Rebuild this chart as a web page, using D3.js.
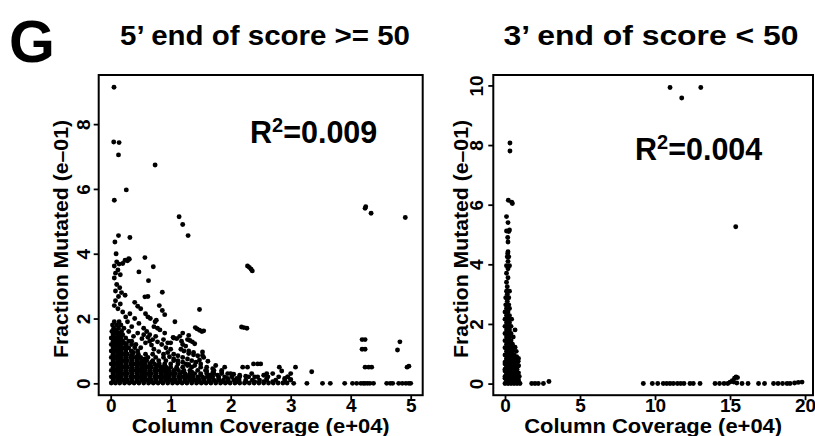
<!DOCTYPE html>
<html><head><meta charset="utf-8">
<script src="https://cdn.jsdelivr.net/npm/d3@7"></script>
<style>
body{margin:0;background:#fff}
svg{display:block}
text{font-family:"Liberation Sans",Arial,Helvetica,sans-serif;font-weight:bold;fill:#000}
</style>
</head><body><svg id="chart" width="815" height="436"></svg>
<script>
// ---------- DATA ----------
const panelLabel = "G";
const titles = ["5\u2019 end of score >= 50", "3\u2019 end of score < 50"];
const r2Labels = ["=0.009", "=0.004"];
const xAxisTitle = "Column Coverage (e+04)";
const yAxisTitle = "Fraction Mutated (e\u201301)";
const leftXTicks = [0, 1, 2, 3, 4, 5];
const leftYTicks = [0, 2, 4, 6, 8];
const rightXTicks = [0, 5, 10, 15, 20];
const rightYTicks = [0, 2, 4, 6, 8, 10];

// left panel: dense band near zero, as rows [y, [x values]]
const leftDenseRows = [
  [0.01,[0.01,0.08,0.15,0.23,0.31,0.39,0.47,0.55,0.63,0.71,0.79,0.87,0.95,1.03,1.11,1.19,1.27,1.35,1.43,1.51,1.59,1.67,1.75,1.83,1.91,1.99,2.07,2.15,2.23,2.31,2.39,2.47,2.55,2.63,2.71,2.79,2.87,2.94]],
  [0.05,[0.05,0.15,0.25,0.35,0.45,0.55,0.65,0.75,0.85,0.95,1.05,1.15,1.25,1.35,1.45,1.55,1.65,1.75,1.85,1.95,2.1,2.25,2.4,2.55,2.7]],
  [0.10,[0.04,0.12,0.2,0.28,0.36,0.44,0.52,0.6,0.68,0.76,0.84,0.92,1.0,1.08,1.16,1.24,1.32,1.4,1.48,1.56,1.64,1.72,1.8,1.88,1.96,2.05,2.14,2.25,2.36,2.48,2.6,2.75,2.9,3.0]],
  [0.15,[0.05,0.15,0.25,0.35,0.45,0.55,0.65,0.75,0.85,0.95,1.05,1.15,1.25,1.35,1.45,1.55,1.65,1.8,1.95,2.1]],
  [0.20,[0.01,0.09,0.17,0.25,0.33,0.41,0.49,0.57,0.65,0.73,0.81,0.89,0.97,1.05,1.13,1.21,1.29,1.37,1.45,1.53,1.61,1.7,1.8,1.9,2.02,2.15,2.3,2.45,2.62,2.8,2.95]],
  [0.25,[0.05,0.15,0.25,0.35,0.45,0.55,0.65,0.75,0.85,0.95,1.05,1.15,1.25,1.35,1.5,1.65]],
  [0.30,[0.04,0.12,0.2,0.28,0.36,0.44,0.52,0.6,0.68,0.76,0.84,0.92,1.0,1.08,1.16,1.24,1.32,1.4,1.5,1.6,1.72,1.85,2.0,2.35,2.6,3.0]],
  [0.35,[0.05,0.15,0.25,0.35,0.45,0.55,0.65,0.75,0.85,0.95,1.05,1.2,1.35]],
  [0.40,[0.01,0.09,0.17,0.25,0.33,0.41,0.49,0.57,0.65,0.73,0.81,0.89,0.97,1.05,1.13,1.22,1.32,1.45,1.58,1.72,1.85]],
  [0.45,[0.05,0.15,0.25,0.35,0.45,0.55,0.65,0.75,0.85,0.95,1.1]],
  [0.50,[0.04,0.12,0.2,0.28,0.36,0.44,0.52,0.6,0.68,0.76,0.84,0.92,1.0,1.1,1.2,1.35,1.5,2.2,2.28,2.81,3.08,4.24,4.3,4.35,4.94]],
  [0.55,[0.05,0.15,0.25,0.35,0.45,0.55,0.65,0.78,0.9]],
  [0.60,[0.01,0.09,0.17,0.25,0.33,0.41,0.49,0.57,0.65,0.73,0.81,0.9,1.0,1.12,1.25,2.38,2.45,2.5]],
  [0.65,[0.05,0.15,0.25,0.35,0.45,0.55,0.68]],
  [0.70,[0.04,0.12,0.2,0.28,0.36,0.44,0.52,0.6,0.7,0.8,0.92,1.05]],
  [0.75,[0.05,0.15,0.25,0.35,0.45,0.57]],
  [0.80,[0.01,0.09,0.17,0.25,0.33,0.41,0.5,0.62,0.75,0.88]],
  [0.85,[0.05,0.15,0.25,0.35,0.45]],
  [0.90,[0.04,0.12,0.2,0.28,0.36,0.46,0.58,0.7]],
  [0.95,[0.05,0.15,0.25,0.38]],
  [1.00,[0.01,0.09,0.17,0.25,0.34,0.45]],
  [1.05,[0.05,0.15,0.25]],
  [1.10,[0.04,0.12,0.2,0.3,0.4]],
  [1.15,[0.06,0.15,0.25]],
  [1.20,[0.01,0.09,0.17,0.26,0.35]],
  [1.25,[0.05,0.14,0.22]],
  [1.30,[0.04,0.12,0.2,0.3]],
  [1.35,[0.06,0.15]],
  [1.40,[0.01,0.09,0.17,0.25]],
  [1.45,[0.05,0.14]],
  [1.50,[0.04,0.12,0.2]],
  [1.55,[0.07,0.15]],
  [1.60,[0.02,0.1,0.18]],
  [1.65,[0.08]],
  [1.70,[0.05,0.13,0.22]],
  [1.80,[0.03,0.1,0.17]],
  [1.90,[0.06,0.14]]
];
// left panel: individual points [coverage e+04, fraction e-01]
const leftPoints = [
  [3.05,0],[3.27,0],[3.53,0],[3.66,0],[3.9,0],[4.03,0],[4.1,0],[4.17,0],[4.21,0],[4.24,0],[4.28,0],[4.32,0],[4.38,0],
  [4.6,0],[4.66,0],[4.7,0],[4.8,0],[4.86,0],[4.92,0],[4.97,0],[5.0,0],
  [0.55,1.5],[0.62,1.42],[0.7,1.35],[0.78,1.28],[0.58,1.25],[0.68,1.18],[0.85,1.2],[0.92,1.1],[1.0,1.05],[0.95,0.95],
  [1.05,0.9],[1.12,0.85],[1.2,0.8],[1.28,0.75],[1.35,0.7],[1.42,0.65],[1.5,0.6],[1.6,0.5],[1.7,0.45],[1.55,0.8],
  [1.45,0.85],[1.38,0.95],[1.3,1.0],[1.2,1.2],[1.25,1.15],[1.18,1.3],[1.05,1.4],[1.1,1.38],[1.28,1.35],[1.32,1.32],
  [1.36,1.28],[1.4,1.22],[1.17,1.05],[1.22,1.0],[1.3,0.92],[1.38,0.88],[1.53,0.97],[1.53,0.86],[0.72,1.75],[0.78,1.7],
  [0.47,1.85],[0.4,2.0],[0.6,1.6],[1.85,0.35],[1.95,0.3],[2.05,0.28],[2.15,0.25],[2.25,0.22],[2.4,0.2],[2.55,0.25],
  [2.7,0.3],[2.85,0.38],[2.95,0.2],[3.0,0.12],[1.75,0.55],[1.9,0.5],[2.6,0.15],
  [0.35,1.3],[0.42,1.2],[0.5,1.1],[0.38,1.45],[0.45,1.55],[0.52,1.38],[0.3,1.6],[0.35,1.75],[0.28,1.9],[0.25,2.05],
  [0.32,2.15],[0.55,1.7],[0.65,1.5],[0.75,1.45],[0.88,1.35],[0.95,1.25],[0.65,1.3],[0.72,1.05],[0.8,0.98],[0.88,0.9],
  [0.98,0.82],[1.05,0.75],[1.12,0.7],[1.2,0.65],[1.3,0.58],[1.4,0.55],[1.6,0.38],[1.7,0.32],[1.78,0.25],[1.28,0.55],
  [1.62,0.68],[1.48,0.72],[1.0,1.25],[0.9,1.55],[1.15,1.45],[1.2,1.55],[1.3,1.48],
  [0.055,9.14],[0.05,7.45],[0.14,7.43],[0.13,7.05],[0.74,6.74],[0.26,5.97],[0.06,5.65],[1.14,5.14],[1.2,4.9],[1.29,4.56],
  [4.24,5.4],[4.25,5.45],[4.34,5.25],[4.91,5.12],[0.13,4.56],[0.32,4.5],[0.07,4.36],[0.09,4.0],[0.31,3.83],[0.57,3.88],
  [0.1,3.75],[0.14,3.68],[0.2,3.7],[0.24,3.8],[0.28,3.78],[0.3,3.85],[0.06,3.62],[0.12,3.5],[0.08,3.4],[0.06,3.25],
  [0.16,3.35],[0.47,3.44],[0.71,3.6],[0.63,3.17],[0.1,3.05],[0.15,2.95],[0.08,2.85],[0.18,2.8],[0.24,2.72],[0.13,2.68],
  [0.86,2.81],[0.57,2.67],[0.62,2.68],[0.4,2.5],[0.45,2.38],[0.5,2.3],[0.08,2.55],[0.06,2.4],[0.12,2.3],[0.16,2.45],
  [0.2,2.2],[0.58,2.15],[0.62,2.05],[0.66,2.0],[0.81,2.4],[0.86,2.25],[0.9,2.12],[0.76,1.95],[0.74,1.9],[1.07,1.9],
  [1.48,2.28],[1.41,1.72],[1.44,1.68],[1.48,1.64],[1.52,1.6],[1.55,1.62],[2.18,1.74],[2.22,1.72],[2.27,1.7],
  [2.28,3.62],[2.31,3.58],[2.34,3.52],[2.36,3.47],[0.82,1.65],[1.04,1.42],[4.19,1.35],[4.24,1.35],[4.19,1.05],[4.24,1.05],
  [4.82,1.28],[4.78,1.03],[4.97,0.53],[3.35,0.36],[2.9,0.15]
];

// right panel: dense strip near zero coverage, rows [y, [x values]]
const rightDenseRows = [
  [0.00,[0.0,0.2,0.4,0.6,0.8,1.0]],
  [0.06,[0.1,0.3,0.5,0.7,0.9]],
  [0.12,[0.1,0.3,0.5,0.7,0.9]],
  [0.18,[0.0,0.2,0.4,0.6,0.8]],
  [0.24,[0.0,0.2,0.4,0.6,0.8,0.95]],
  [0.30,[0.1,0.3,0.5,0.7]],
  [0.36,[0.1,0.3,0.5,0.7,0.9]],
  [0.42,[0.0,0.2,0.4,0.6]],
  [0.48,[0.0,0.2,0.4,0.6,0.8]],
  [0.54,[0.1,0.3,0.5]],
  [0.60,[0.1,0.3,0.5,0.7,0.88]],
  [0.66,[0.0,0.2,0.4]],
  [0.72,[0.0,0.2,0.4,0.6,0.8]],
  [0.78,[0.1,0.3,0.5]],
  [0.84,[0.1,0.3,0.5,0.7,0.9]],
  [0.96,[0.0,0.2,0.4,0.6]],
  [1.08,[0.1,0.3,0.5,0.75]],
  [1.20,[0.0,0.2,0.4,0.6]],
  [1.32,[0.1,0.3,0.5]],
  [1.44,[0.0,0.2,0.4]],
  [1.56,[0.1,0.3,0.55]],
  [1.68,[0.0,0.2,0.4]],
  [1.80,[0.1,0.3,0.67]],
  [1.92,[0.0,0.2,0.4]],
  [2.04,[0.1,0.3]],
  [2.16,[0.0,0.2,0.44]],
  [2.28,[0.1,0.3]],
  [2.40,[0.0,0.2]],
  [2.52,[0.1,0.3]],
  [2.64,[0.05,0.25]],
  [2.76,[0.15]],
  [2.88,[0.05,0.25]],
  [3.00,[0.15]],
  [3.10,[0.1,0.3]],
  [3.25,[0.15]],
  [3.40,[0.1]],
  [3.55,[0.2]],
  [3.70,[0.1]],
  [3.85,[0.2]],
  [3.95,[0.1,0.3]],
  [4.10,[0.2]],
  [4.25,[0.15]],
  [4.36,[0.18]]
];
const rightPoints = [
  [0.33,8.07],[0.33,7.8],[0.22,6.15],[0.49,6.04],[0.45,6.08],[0.1,5.6],[0.2,5.4],[0.1,5.12],[0.25,5.1],[0.3,5.15],
  [0.2,4.42],[0.25,4.25],[0.18,4.9],[0.2,4.75],[0.67,1.22],[0.78,0.9],[0.88,0.75],[0.9,0.6],
  [1.78,0],[2.0,0],[2.22,0],[2.56,0],[2.93,0.07],
  [9.22,0],[9.82,0],[10.18,0],[10.55,0],[10.78,0],[11.0,0],[11.22,0],[11.49,0],[11.71,0],[11.93,0],[12.33,0],[12.55,0],[13.0,0],
  [14.0,0],[14.3,0],[14.6,0],[14.85,0],[15.0,0.05],[15.15,0.1],[15.3,0.18],[15.4,0.22],[15.5,0.2],[15.25,0.05],[15.45,0.02],
  [15.8,0],[16.2,0],[16.9,0],[17.3,0],[17.9,0],[18.2,0],[18.5,0],[18.8,0],[19.0,0],[19.3,0.02],[19.55,0.04],[19.8,0.05],
  [11.0,9.93],[11.78,9.58],[13.05,9.93],[15.38,5.26]
];

// ---------- DRAW ----------
const svg = d3.select("#chart");

function flatten(rows, pts) {
  const out = [];
  rows.forEach(([y, xs]) => xs.forEach(x => out.push([x, y])));
  return out.concat(pts);
}

const panels = [
  { x0: 98.7, x1: 422.7, y0: 75, y1: 395.2, xDom: [-0.2, 5.2], yDom: [-0.366, 9.516],
    xTicks: leftXTicks, yTicks: leftYTicks, data: flatten(leftDenseRows, leftPoints),
    title: titles[0], titleX: 265, titleLen: 290, r2: r2Labels[0], r2x: 250, r2y: 143,
    yTitleX: 68, yLabOff: 9 },
  { x0: 493.3, x1: 813, y0: 75, y1: 395.2, xDom: [-0.78, 20.53], yDom: [-0.39, 10.35],
    xTicks: rightXTicks, yTicks: rightYTicks, data: flatten(rightDenseRows, rightPoints),
    title: titles[1], titleX: 651, titleLen: 295, r2: r2Labels[1], r2x: 635, r2y: 160,
    yTitleX: 467.5, yLabOff: 10.5 }
];

svg.append("text").attr("x", 9).attr("y", 61.5).attr("font-size", 59).text(panelLabel);

panels.forEach(p => {
  const x = d3.scaleLinear().domain(p.xDom).range([p.x0, p.x1]);
  const y = d3.scaleLinear().domain(p.yDom).range([p.y1, p.y0]);
  const cx = (p.x0 + p.x1) / 2;

  // points
  svg.append("g").selectAll("circle").data(p.data).join("circle")
    .attr("cx", d => x(d[0])).attr("cy", d => y(d[1])).attr("r", 2.45).attr("fill", "#000");

  // box
  svg.append("rect").attr("x", p.x0).attr("y", p.y0)
    .attr("width", p.x1 - p.x0).attr("height", p.y1 - p.y0)
    .attr("fill", "none").attr("stroke", "#000").attr("stroke-width", 2);

  // x axis
  const gx = svg.append("g").attr("transform", `translate(0,${p.y1})`)
    .call(d3.axisBottom(x).tickValues(p.xTicks).tickSize(5).tickFormat(d3.format("d")));
  gx.select(".domain").remove();
  gx.selectAll("line").attr("stroke-width", 1.8);
  gx.selectAll("text").attr("y", 16.8).attr("dy", 0).attr("font-size", 19)
    .attr("font-family", "Liberation Sans, Arial, sans-serif").attr("font-weight", "bold");

  // y axis
  const gy = svg.append("g").attr("transform", `translate(${p.x0},0)`)
    .call(d3.axisLeft(y).tickValues(p.yTicks).tickSize(5).tickFormat(d3.format("d")));
  gy.select(".domain").remove();
  gy.selectAll("line").attr("stroke-width", 1.8);
  gy.selectAll("text").attr("transform", "rotate(-90)").attr("x", 0).attr("y", -p.yLabOff)
    .attr("dy", 0).attr("text-anchor", "middle").attr("font-size", 19)
    .attr("font-family", "Liberation Sans, Arial, sans-serif").attr("font-weight", "bold");

  // titles
  svg.append("text").attr("x", p.titleX).attr("y", 44.5).attr("text-anchor", "middle")
    .attr("font-size", 27).attr("textLength", p.titleLen).attr("lengthAdjust", "spacingAndGlyphs")
    .text(p.title);
  svg.append("text").attr("x", cx).attr("y", 433).attr("text-anchor", "middle")
    .attr("font-size", 20).attr("textLength", 258).attr("lengthAdjust", "spacingAndGlyphs")
    .text(xAxisTitle);
  svg.append("text").attr("transform", `translate(${p.yTitleX},239) rotate(-90)`)
    .attr("text-anchor", "middle").attr("font-size", 21)
    .attr("textLength", 238).attr("lengthAdjust", "spacingAndGlyphs").text(yAxisTitle);

  // R^2 annotation
  const r2 = svg.append("text").attr("x", p.r2x).attr("y", p.r2y).attr("font-size", 30.5);
  r2.append("tspan").text("R");
  r2.append("tspan").attr("font-size", 20).attr("dy", -11.5).text("2");
  r2.append("tspan").attr("dy", 11.5).text(p.r2);
});
</script></body></html>
